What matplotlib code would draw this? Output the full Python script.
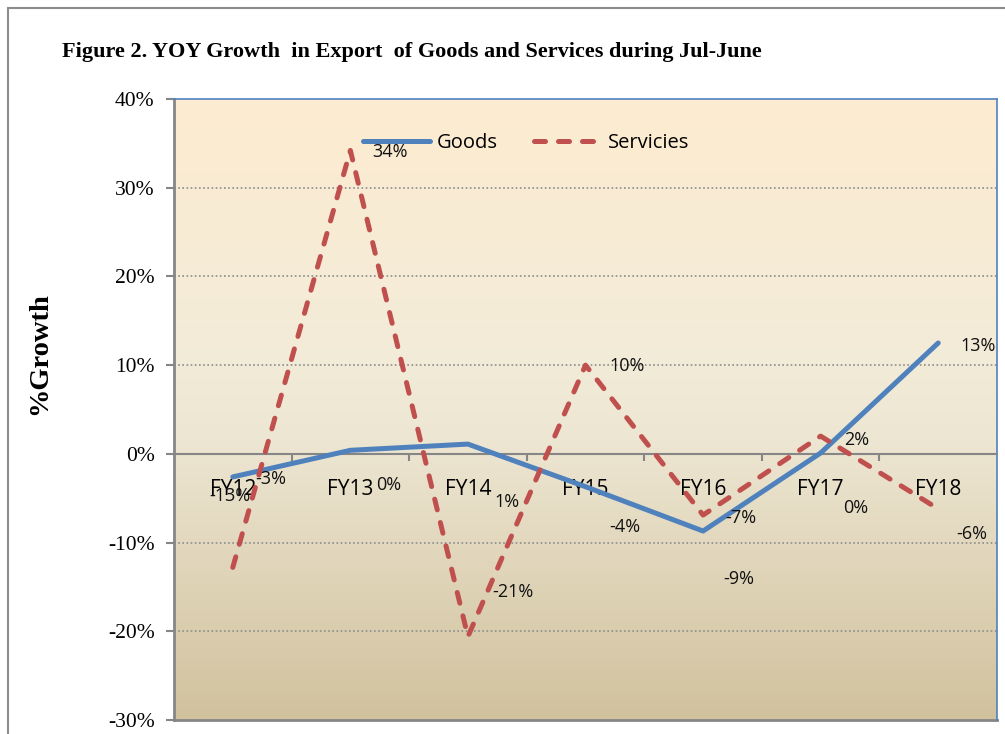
import numpy as np
import matplotlib
matplotlib.use('Agg')
import matplotlib.pyplot as plt
from matplotlib.colors import LinearSegmentedColormap
from matplotlib.patches import Rectangle

# data
years = ['FY12', 'FY13', 'FY14', 'FY15', 'FY16', 'FY17', 'FY18']
goods = [-2.6, 0.4, 1.1, -3.7, -8.7, 0.1, 12.5]
services = [-12.8, 34.2, -20.6, 10.0, -6.9, 2.0, -6.2]
goods_labels = ['-3%', '0%', '1%', '-4%', '-9%', '0%', '13%']
services_labels = ['-13%', '34%', '-21%', '10%', '-7%', '2%', '-6%']
yticks = [-30, -20, -10, 0, 10, 20, 30, 40]

# label offsets in pixels (x right, y up)
goods_off = [(38, -2), (38, -35), (39, -58), (39, -40), (36, -48), (35, -55), (40, -3)]
serv_off = [(-3, 71), (40, -2), (45, 45), (42, -1), (38, -3), (36, -4), (34, -25)]

blue = '#4F81BD'
red = '#C0504D'
gray = '#868686'
lblfont = 'Open Sans'

fig = plt.figure(figsize=(10.05, 7.34), dpi=100)
ax = fig.add_axes([174/1005, 14/734, 823/1005, 621/734])

x = np.arange(len(years))

# background gradient
cmap = LinearSegmentedColormap.from_list('bg', [(0, '#D1C19D'), (0.45, '#EDE6D2'), (0.6, '#F3ECD9'), (1, '#FDEBD0')])
grad = np.linspace(0, 1, 256).reshape(-1, 1)
ax.imshow(grad, extent=[-0.5, 6.5, -30, 40], origin='lower', aspect='auto', cmap=cmap, zorder=0)

for v in [-20, -10, 10, 20, 30]:
    ax.axhline(v, color='#8C8C8C', lw=1.2, ls=(0, (1, 1.5)), zorder=1)
ax.axhline(-30, color=gray, lw=2, zorder=2, clip_on=False)

ax.plot(x, goods, color=blue, lw=3.6, solid_capstyle='round', zorder=3, label='Goods')
ax.plot(x, services, color=red, lw=3.6, dashes=(2.2, 2.6), dash_capstyle='round', zorder=4, label='Servicies')

for i in range(len(years)):
    ax.annotate(goods_labels[i], (x[i], goods[i]), xytext=goods_off[i], textcoords='offset pixels',
                ha='center', va='center', fontsize=13, family=lblfont, color='#111111', zorder=5)
    ax.annotate(services_labels[i], (x[i], services[i]), xytext=serv_off[i], textcoords='offset pixels',
                ha='center', va='center', fontsize=13, family=lblfont, color='#111111', zorder=5)

ax.set_xlim(-0.5, 6.5)
ax.set_ylim(-30, 40)

ax.spines['bottom'].set_position(('data', 0))
ax.spines['bottom'].set_color(gray)
ax.spines['bottom'].set_linewidth(1.5)
ax.spines['left'].set_color(gray)
ax.spines['left'].set_linewidth(2)
for s in ['top', 'right']:
    ax.spines[s].set_color(blue)
    ax.spines[s].set_linewidth(1.2)

ax.set_xticks(x)
ax.set_xticklabels(years, family=lblfont, fontsize=15)
ax.tick_params(axis='x', which='major', length=0, pad=18)
ax.set_xticks(np.arange(-0.5, 7, 1)[1:-1], minor=True)
ax.tick_params(axis='x', which='minor', direction='out', length=5, width=1.5, color=gray)

ax.set_yticks(yticks)
ax.set_yticklabels([f'{v}%' for v in yticks], family='Liberation Serif', fontsize=15.5)
ax.tick_params(axis='y', direction='out', length=6, width=1.5, color=gray, pad=8)

leg = ax.legend(loc='center', bbox_to_anchor=(0.428, 0.929), ncol=2, frameon=False,
                prop={'family': lblfont, 'size': 14.5}, handlelength=3.3, handletextpad=0.35,
                columnspacing=1.8, borderpad=0)

fig.text(62/1005, 1 - 52/734, 'Figure 2. YOY Growth  in Export  of Goods and Services during Jul-June',
         family='Liberation Serif', fontweight='bold', fontsize=16, ha='left', va='center')
fig.text(40/1005, 1 - 354/734, '%Growth', family='Liberation Serif', fontweight='bold',
         fontsize=20.5, rotation=90, ha='center', va='center')

fig.patches.append(Rectangle((8/1005, -0.1), 1.2, 1 - 8/734 + 0.1, transform=fig.transFigure,
                             fill=False, edgecolor='#8C8C8C', lw=1.5, clip_on=False))

fig.savefig('out.png', dpi=100)
